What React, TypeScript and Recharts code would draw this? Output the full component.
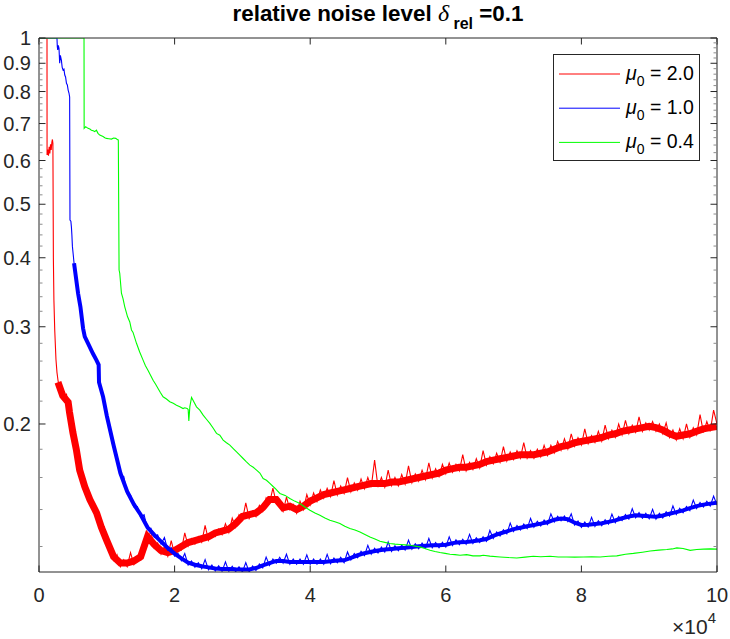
import React from 'react';
import { LineChart, Line, XAxis, YAxis, Legend } from 'recharts';

const FONT = '"Liberation Sans", Arial, Helvetica, sans-serif';
const AXIS = '#262626';

// ---- axes ----
const xTicks = [0, 20000, 40000, 60000, 80000, 100000];
const xTickLabels = ['0', '2', '4', '6', '8', '10'];
const yMajorTicks = [0.2, 0.3, 0.4, 0.5, 0.6, 0.7, 0.8, 0.9, 1];
const yMajorLabels = ['0.2', '0.3', '0.4', '0.5', '0.6', '0.7', '0.8', '0.9', '1'];
const yMinorTicks = [
  0.12, 0.14, 0.16, 0.18, 0.22, 0.24, 0.26, 0.28, 0.32, 0.34, 0.36, 0.38,
  0.42, 0.44, 0.46, 0.48, 0.52, 0.54, 0.56, 0.58, 0.62, 0.64, 0.66, 0.68,
  0.72, 0.74, 0.76, 0.78, 0.82, 0.84, 0.86, 0.88, 0.92, 0.94, 0.96, 0.98,
];
const yDomain: [number, number] = [0.1079, 1];
const xDomain: [number, number] = [0, 100000];

// ---- legend ----
const seriesMu = ['2.0', '1.0', '0.4'];
const seriesColors = ['#ff0000', '#0000ff', '#00ff00'];

// ---- series: mu0 = 2.0 (red) ----
const redHead: [number, number][] = [
  [0, 1], [1180, 1], [1190, 0.614], [1300, 0.628], [1400, 0.612], [1500, 0.635], [1600, 0.618],
  [1700, 0.642], [1800, 0.627], [1900, 0.648], [1980, 0.655], [2050, 0.645], [2120, 0.4],
  [2200, 0.335], [2320, 0.296], [2500, 0.262], [2650, 0.248], [2800, 0.24], [3000, 0.233],
  [3150, 0.226], [3300, 0.224], [3450, 0.231], [3600, 0.222], [3750, 0.229], [3900, 0.219],
  [4050, 0.227], [4200, 0.218], [4350, 0.219], [4500, 0.209], [4650, 0.207], [4800, 0.199],
  [5000, 0.195], [5150, 0.188], [5300, 0.189], [5500, 0.179], [5650, 0.177], [5800, 0.169],
  [6000, 0.167], [6200, 0.16], [6400, 0.16], [6600, 0.154], [6800, 0.156], [7000, 0.15],
  [7200, 0.151], [7400, 0.145], [7600, 0.147], [7800, 0.141], [8000, 0.144], [8200, 0.138],
  [8400, 0.14], [8600, 0.135], [8800, 0.136], [9000, 0.131], [9200, 0.132], [9400, 0.127],
  [9600, 0.128], [9800, 0.123],
];
const tailStart = 10000;
const tailStep = 500;
const redTail = [
  0.1212, 0.1208, 0.1133, 0.116, 0.1103, 0.1135, 0.1103, 0.117, 0.1113, 0.114, 0.1133, 0.119, 0.1231, 0.128, 0.1192, 0.1218, 0.1162, 0.12, 0.1152, 0.123,
  0.1162, 0.1195, 0.1182, 0.127, 0.1202, 0.124, 0.1212, 0.125, 0.1221, 0.131, 0.1231, 0.127, 0.1251, 0.129, 0.1261, 0.132, 0.1271, 0.135, 0.13, 0.137,
  0.134, 0.144, 0.1349, 0.139, 0.1359, 0.1425, 0.1389, 0.147, 0.1438, 0.153, 0.1438, 0.144, 0.1389, 0.1475, 0.1399, 0.143, 0.1379, 0.145, 0.1399, 0.149,
  0.1428, 0.15, 0.1448, 0.152, 0.1468, 0.153, 0.1478, 0.158, 0.1487, 0.1545, 0.1497, 0.16, 0.1507, 0.1565, 0.1517, 0.159, 0.1527, 0.16, 0.1537, 0.172,
  0.1537, 0.16, 0.1537, 0.165, 0.1546, 0.16, 0.1546, 0.162, 0.1556, 0.168, 0.1566, 0.1625, 0.1576, 0.165, 0.1586, 0.17, 0.1596, 0.166, 0.1606, 0.169,
  0.1625, 0.17, 0.1635, 0.169, 0.1645, 0.176, 0.1645, 0.1705, 0.1655, 0.173, 0.1665, 0.179, 0.1684, 0.1745, 0.1694, 0.177, 0.1704, 0.182, 0.1714, 0.178,
  0.1724, 0.179, 0.1734, 0.185, 0.1734, 0.179, 0.1734, 0.18, 0.1743, 0.183, 0.1753, 0.183, 0.1773, 0.186, 0.1793, 0.188, 0.1803, 0.192, 0.1822, 0.189,
  0.1832, 0.196, 0.1842, 0.1905, 0.1852, 0.194, 0.1862, 0.199, 0.1881, 0.195, 0.1891, 0.2, 0.1911, 0.203, 0.1921, 0.199, 0.1931, 0.206, 0.194, 0.201,
  0.195, 0.202, 0.194, 0.2, 0.1921, 0.201, 0.1891, 0.195, 0.1872, 0.196, 0.1881, 0.2, 0.1891, 0.197, 0.1911, 0.208, 0.1931, 0.202, 0.194, 0.212,
  0.2,
];
// middle of the dense red band
const redBandHead: [number, number][] = [
  [2800, 0.238], [3500, 0.225], [4300, 0.219], [4500, 0.21], [5000, 0.193], [5500, 0.18],
  [6000, 0.165], [6750, 0.154], [7500, 0.146], [8500, 0.138], [9200, 0.13],
];
const bandStep = 1000;
const redBand = [
  0.123, 0.115, 0.112, 0.112, 0.113, 0.115, 0.125, 0.121, 0.118, 0.117,
  0.118, 0.12, 0.122, 0.123, 0.124, 0.125, 0.127, 0.128, 0.129, 0.132,
  0.136, 0.137, 0.138, 0.141, 0.146, 0.146, 0.141, 0.142, 0.14, 0.142,
  0.145, 0.147, 0.149, 0.15, 0.151, 0.152, 0.153, 0.154, 0.155, 0.156,
  0.156, 0.156, 0.157, 0.157, 0.158, 0.159, 0.16, 0.161, 0.162, 0.163,
  0.165, 0.166, 0.167, 0.167, 0.168, 0.169, 0.171, 0.172, 0.173, 0.174,
  0.175, 0.176, 0.176, 0.176, 0.177, 0.178, 0.18, 0.182, 0.183, 0.185,
  0.186, 0.187, 0.188, 0.189, 0.191, 0.192, 0.194, 0.195, 0.196, 0.197,
  0.198, 0.197, 0.195, 0.192, 0.19, 0.191, 0.192, 0.194, 0.196, 0.197,
  0.198,
];

// ---- series: mu0 = 1.0 (blue) ----
const blueHead: [number, number][] = [
  [0, 1], [2650, 1], [2700, 0.965], [2760, 0.951], [2850, 0.97], [2950, 0.958], [3050, 0.9],
  [3150, 0.93], [3300, 0.912], [3420, 0.885], [3550, 0.875], [3680, 0.878], [3800, 0.857],
  [3920, 0.85], [4050, 0.828], [4180, 0.822], [4300, 0.805], [4420, 0.795], [4520, 0.782],
  [4570, 0.468], [4700, 0.466], [4780, 0.455], [4850, 0.44], [4930, 0.419], [5050, 0.405],
  [5170, 0.391], [5300, 0.382], [5420, 0.369], [5600, 0.357], [5760, 0.345], [5900, 0.335],
  [6110, 0.326], [6300, 0.31], [6500, 0.298], [6750, 0.288], [7000, 0.285], [7230, 0.28],
  [7600, 0.274], [7970, 0.268], [8200, 0.265], [8470, 0.261], [8800, 0.256], [8850, 0.238],
  [9000, 0.236], [9200, 0.23], [9450, 0.224], [9700, 0.216],
];
const blueTail = [
  0.2049, 0.1953, 0.1812, 0.1751, 0.1614, 0.1607, 0.1495, 0.1488, 0.1416, 0.1417, 0.1356, 0.137, 0.1287, 0.1295, 0.1247, 0.126, 0.1213, 0.1246, 0.1181, 0.1194,
  0.1153, 0.1166, 0.1131, 0.1165, 0.1111, 0.113, 0.1101, 0.1121, 0.1094, 0.1136, 0.1089, 0.1111, 0.1084, 0.1107, 0.1082, 0.1126, 0.1082, 0.1105, 0.108, 0.1103,
  0.1079, 0.1122, 0.1079, 0.1106, 0.1086, 0.1116, 0.1098, 0.1148, 0.1109, 0.1139, 0.1119, 0.1147, 0.1119, 0.1162, 0.1114, 0.1139, 0.1114, 0.1139, 0.1114, 0.1159,
  0.1114, 0.1139, 0.1114, 0.1139, 0.1114, 0.1161, 0.1117, 0.1144, 0.1121, 0.1147, 0.1122, 0.1173, 0.1134, 0.1165, 0.1145, 0.1176, 0.1155, 0.1206, 0.1162, 0.1191,
  0.1168, 0.1197, 0.1173, 0.1223, 0.1176, 0.1204, 0.1179, 0.1207, 0.1182, 0.1232, 0.1186, 0.1214, 0.1189, 0.1217, 0.1192, 0.1241, 0.1194, 0.122, 0.1194, 0.1222,
  0.1197, 0.1249, 0.1205, 0.1234, 0.1209, 0.1237, 0.1211, 0.1262, 0.1215, 0.1245, 0.122, 0.125, 0.1226, 0.1283, 0.1241, 0.1275, 0.1254, 0.1287, 0.1265, 0.1323,
  0.1277, 0.131, 0.1285, 0.1318, 0.1293, 0.1349, 0.13, 0.1333, 0.1307, 0.134, 0.1315, 0.1375, 0.1329, 0.1362, 0.1336, 0.1363, 0.1332, 0.1375, 0.1312, 0.1335,
  0.13, 0.1329, 0.1301, 0.1355, 0.1305, 0.1336, 0.1309, 0.1342, 0.1317, 0.1374, 0.1325, 0.136, 0.1337, 0.1371, 0.1346, 0.1405, 0.1353, 0.1382, 0.135, 0.1379,
  0.1347, 0.1401, 0.1345, 0.1378, 0.1352, 0.1387, 0.1362, 0.1421, 0.1371, 0.1407, 0.1381, 0.1418, 0.1394, 0.1456, 0.1406, 0.1442, 0.1415, 0.1449, 0.1421, 0.1481,
  0.1426,
];
// middle of the dense blue band
const blueBandHead: [number, number][] = [
  [5170, 0.391], [5760, 0.345], [6110, 0.326], [6500, 0.298],
  [6750, 0.288], [7230, 0.28], [7970, 0.268], [8470, 0.261], [8800, 0.256], [8850, 0.238],
  [9450, 0.224],
];
const blueBand = [
  0.207, 0.183, 0.163, 0.151, 0.143, 0.137, 0.13, 0.126, 0.1225, 0.1193,
  0.1165, 0.1142, 0.1122, 0.1112, 0.1105, 0.11, 0.1095, 0.1093, 0.1093, 0.1091,
  0.109, 0.109, 0.1097, 0.1109, 0.112, 0.113, 0.113, 0.1125, 0.1125, 0.1125,
  0.1125, 0.1125, 0.1125, 0.1128, 0.1132, 0.1133, 0.1145, 0.1157, 0.1167, 0.1174,
  0.118, 0.1185, 0.1188, 0.1191, 0.1194, 0.1198, 0.1201, 0.1204, 0.1206, 0.1206,
  0.1209, 0.1217, 0.1221, 0.1223, 0.1227, 0.1232, 0.1238, 0.1254, 0.1267, 0.1278,
  0.129, 0.1298, 0.1306, 0.1313, 0.132, 0.1328, 0.1342, 0.1349, 0.1345, 0.1325,
  0.1313, 0.1314, 0.1318, 0.1322, 0.133, 0.1338, 0.135, 0.136, 0.1367, 0.1364,
  0.1361, 0.1359, 0.1366, 0.1376, 0.1385, 0.1395, 0.1408, 0.142, 0.1429, 0.1435,
  0.144,
];

// ---- series: mu0 = 0.4 (green) ----
const greenPoints: [number, number][] = [
  [0, 1], [6640, 1], [6660, 0.686], [6890, 0.691], [7230, 0.686], [7500, 0.684], [7730, 0.681],
  [8000, 0.679], [8220, 0.677], [8470, 0.681], [8700, 0.672], [8960, 0.667], [9200, 0.665],
  [9450, 0.663], [9700, 0.66], [9950, 0.658], [10300, 0.657], [10690, 0.656], [11000, 0.659],
  [11320, 0.658], [11660, 0.653], [11700, 0.655], [11810, 0.38], [11910, 0.375], [12160, 0.345],
  [12400, 0.337], [12650, 0.326], [12900, 0.318], [13050, 0.313], [13390, 0.306], [13640, 0.296],
  [13870, 0.293], [14380, 0.28], [14850, 0.27], [15350, 0.261], [15700, 0.255], [16090, 0.25],
  [16450, 0.245], [16830, 0.24], [17200, 0.236], [17560, 0.232], [17900, 0.228], [18300, 0.224],
  [18800, 0.222], [19290, 0.2194], [19800, 0.218], [20280, 0.2163], [20770, 0.215], [21250, 0.2133],
  [21500, 0.214], [21850, 0.2133], [22000, 0.2125], [22100, 0.2025], [22250, 0.215], [22500, 0.2234],
  [22700, 0.221], [23230, 0.2148], [23720, 0.2119], [24210, 0.2075], [24700, 0.204], [25200, 0.2005],
  [25700, 0.1965], [26180, 0.1923], [26670, 0.1909], [27160, 0.187], [27650, 0.185], [28150, 0.1831],
  [28650, 0.1805], [29140, 0.178], [29620, 0.1756], [30110, 0.1732], [30600, 0.1708], [31100, 0.1685],
  [31600, 0.167], [32090, 0.165], [32575, 0.163], [33060, 0.1593], [33550, 0.1582], [34050, 0.1561],
  [34800, 0.153], [35530, 0.1497], [36300, 0.1485], [37000, 0.1466], [37700, 0.145], [38480, 0.1436],
  [39200, 0.1415], [39960, 0.1396], [40700, 0.138], [41430, 0.1367], [42170, 0.1352], [42900, 0.1339],
  [43640, 0.133], [44380, 0.1321], [45100, 0.1306], [45860, 0.1294], [46600, 0.1285], [47340, 0.1275],
  [48070, 0.1262], [48810, 0.1249], [49550, 0.1238], [50290, 0.1227], [51000, 0.1221], [51760, 0.1215],
  [52500, 0.1212], [53240, 0.121], [54000, 0.1208], [54720, 0.1206], [55450, 0.1202], [56190, 0.1198],
  [56900, 0.119], [57670, 0.1181], [58400, 0.1175], [59140, 0.117], [59900, 0.1166], [60620, 0.1162],
  [61350, 0.116], [62100, 0.1157], [63080, 0.116], [64000, 0.1154], [65050, 0.1154], [65530, 0.1157],
  [66500, 0.1153], [68000, 0.1149], [69200, 0.1146], [70460, 0.1144], [71700, 0.1148], [72910, 0.1152],
  [74000, 0.115], [75380, 0.1152], [76600, 0.1149], [77840, 0.1149], [79000, 0.1148], [80290, 0.1149],
  [81500, 0.115], [82760, 0.1149], [84000, 0.1152], [85220, 0.1154], [86500, 0.1162], [87670, 0.1166],
  [89000, 0.1172], [90140, 0.1178], [91400, 0.1182], [92600, 0.1185], [93400, 0.1188], [94080, 0.1193],
  [95000, 0.119], [96040, 0.1181], [97000, 0.1185], [98010, 0.1187], [99000, 0.1188], [100000, 0.1187],
];

type Pt = { x: number; y: number };
const fromPairs = (p: [number, number][]): Pt[] => p.map(([x, y]) => ({ x, y }));
const fromSteps = (vals: number[], step: number): Pt[] => vals.map((y, i) => ({ x: tailStart + i * step, y }));

const redData = [...fromPairs(redHead), ...fromSteps(redTail, tailStep)];
const redBandData = [...fromPairs(redBandHead), ...fromSteps(redBand, bandStep)];
const blueData = [...fromPairs(blueHead), ...fromSteps(blueTail, tailStep)];
const blueBandData = [...fromPairs(blueBandHead), ...fromSteps(blueBand, bandStep)];
const greenData = fromPairs(greenPoints);

// drawing order: red band, red trace, blue band, blue trace, green trace
const layers = [
  { key: 'redBand', data: redBandData, color: seriesColors[0], width: 7 },
  { key: 'red', data: redData, color: seriesColors[0], width: 1.1 },
  { key: 'blueBand', data: blueBandData, color: seriesColors[1], width: 4 },
  { key: 'blue', data: blueData, color: seriesColors[1], width: 1.1 },
  { key: 'green', data: greenData, color: seriesColors[2], width: 1.1 },
];

const MAJOR = 6.5;
const MINOR = 3.5;

const LeftTick = (props: any) => {
  const { x, y, payload } = props;
  const i = yMajorTicks.indexOf(payload.value);
  const major = i >= 0;
  return (
    <g>
      <line x1={x} x2={x + (major ? MAJOR : MINOR)} y1={y} y2={y} stroke={major ? AXIS : '#8c8c8c'} strokeWidth={1} />
      {major && (
        <text x={x - 8} y={y} dy="0.36em" textAnchor="end" fontSize={20} fill={AXIS} fontFamily={FONT}>
          {yMajorLabels[i]}
        </text>
      )}
    </g>
  );
};

const RightTick = (props: any) => {
  const { x, y, payload } = props;
  const major = yMajorTicks.indexOf(payload.value) >= 0;
  return (
    <line x1={x} x2={x - (major ? MAJOR : MINOR)} y1={y} y2={y} stroke={major ? AXIS : '#8c8c8c'} strokeWidth={1} />
  );
};

const BottomTick = (props: any) => {
  const { x, y, payload } = props;
  const i = xTicks.indexOf(payload.value);
  return (
    <g>
      <line x1={x} x2={x} y1={y} y2={y - MAJOR} stroke={AXIS} strokeWidth={1} />
      <text x={x} y={y + 30} textAnchor="middle" fontSize={20} fill={AXIS} fontFamily={FONT}>
        {xTickLabels[i]}
      </text>
    </g>
  );
};

const TopTick = (props: any) => {
  const { x, y } = props;
  return <line x1={x} x2={x} y1={y} y2={y + MAJOR} stroke={AXIS} strokeWidth={1} />;
};

const LegendBox = () => (
  <svg width={147} height={107} style={{ display: 'block' }}>
    <rect x={0.5} y={0.5} width={146} height={106} fill="#ffffff" stroke={AXIS} strokeWidth={1} />
    {seriesMu.map((mu, i) => {
      const ly = 20 + i * 34.2;
      return (
        <g key={mu}>
          <line x1={6} x2={67} y1={ly} y2={ly} stroke={seriesColors[i]} strokeWidth={1} />
          <text x={73} y={ly + 6} fontSize={19.5} fontFamily={FONT} fill="#000">
            <tspan fontStyle="italic">μ</tspan>
            <tspan fontSize={14} dy={6}>0</tspan>
            <tspan dy={-6}>{' = ' + mu}</tspan>
          </text>
        </g>
      );
    })}
  </svg>
);

export default function App() {
  return (
    <div style={{ position: 'absolute', left: 0, top: 0, width: 730, height: 639, background: '#fff' }}>
      <LineChart width={730} height={639} margin={{ top: 0, right: 0, bottom: 0, left: 0 }}>
        <XAxis
          xAxisId="b"
          dataKey="x"
          type="number"
          domain={xDomain}
          ticks={xTicks}
          interval={0}
          orientation="bottom"
          height={67}
          tickLine={false}
          tickSize={0}
          tickMargin={0}
          tick={BottomTick}
          axisLine={{ stroke: AXIS, strokeWidth: 1 }}
          allowDataOverflow
        />
        <XAxis
          xAxisId="t"
          dataKey="x"
          type="number"
          domain={xDomain}
          ticks={xTicks}
          interval={0}
          orientation="top"
          height={38}
          tickLine={false}
          tickSize={0}
          tickMargin={0}
          tick={TopTick}
          axisLine={{ stroke: AXIS, strokeWidth: 1 }}
          allowDataOverflow
        />
        <YAxis
          yAxisId="l"
          type="number"
          scale="log"
          domain={yDomain}
          ticks={[...yMinorTicks, ...yMajorTicks]}
          interval={0}
          width={39}
          tickLine={false}
          tickSize={0}
          tickMargin={0}
          tick={LeftTick}
          axisLine={{ stroke: AXIS, strokeWidth: 1 }}
          allowDataOverflow
        />
        <YAxis
          yAxisId="r"
          orientation="right"
          type="number"
          scale="log"
          domain={yDomain}
          ticks={[...yMinorTicks, ...yMajorTicks]}
          interval={0}
          width={13}
          tickLine={false}
          tickSize={0}
          tickMargin={0}
          tick={RightTick}
          axisLine={{ stroke: AXIS, strokeWidth: 1 }}
          allowDataOverflow
        />
        <Legend
          layout="vertical"
          align="center"
          verticalAlign="middle"
          content={LegendBox}
          wrapperStyle={{ position: 'absolute', left: 553, top: 54, width: 147, height: 107, margin: 0, padding: 0 }}
        />
        {layers.map((l) => (
          <Line
            key={l.key}
            xAxisId="b"
            yAxisId="l"
            data={l.data}
            dataKey="y"
            stroke={l.color}
            strokeWidth={l.width}
            dot={false}
            activeDot={false}
            legendType="none"
            isAnimationActive={false}
          />
        ))}
      </LineChart>
      <svg width={730} height={639} style={{ position: 'absolute', left: 0, top: 0, pointerEvents: 'none' }}>
        <text x={378} y={21} textAnchor="middle" fontFamily={FONT} fontWeight="bold" fontSize={22.4} fill="#000">
          {'relative noise level '}
          <tspan fontStyle="italic" fontWeight="normal" fontSize={24} fontFamily='"Liberation Serif", serif'>δ</tspan>
          <tspan fontSize={16} dy={8}>{' rel'}</tspan>
          <tspan dy={-8}>{' =0.1'}</tspan>
        </text>
        <text x={716} y={634} textAnchor="end" fontFamily={FONT} fontSize={21} fill={AXIS}>
          {'×10'}
          <tspan fontSize={15} dy={-11}>4</tspan>
        </text>
      </svg>
    </div>
  );
}
